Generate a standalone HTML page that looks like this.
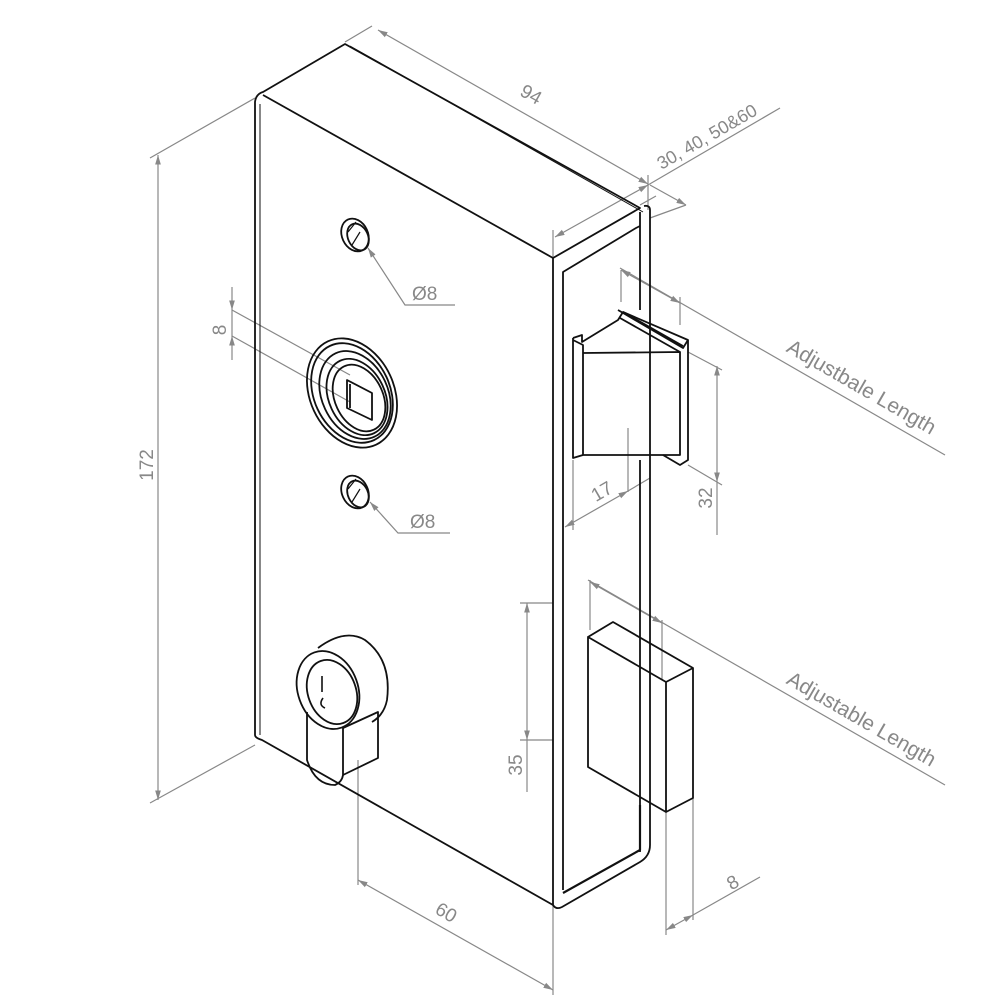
<!DOCTYPE html>
<html><head><style>body{margin:0;background:#fff}svg{display:block}</style></head><body>
<svg width="1000" height="1000" viewBox="0 0 1000 1000" xmlns="http://www.w3.org/2000/svg">
<rect width="1000" height="1000" fill="#fff"/>
<defs>
<marker id="a" viewBox="0 0 10 10" refX="10" refY="5" markerWidth="8" markerHeight="8" orient="auto-start-reverse"><path d="M0,2 L10,5 L0,8z" fill="#888"/></marker>
</defs>
<g stroke="#888" stroke-width="1.2" fill="none">
<line x1="255" y1="98" x2="150" y2="158"/><line x1="255" y1="745" x2="150" y2="803"/>
<line x1="158" y1="155" x2="158" y2="800" marker-start="url(#a)" marker-end="url(#a)"/>
<line x1="345" y1="42" x2="372" y2="26"/><line x1="640" y1="205" x2="656" y2="196"/>
<line x1="378" y1="30" x2="648" y2="184" marker-start="url(#a)" marker-end="url(#a)"/>
<line x1="648" y1="210" x2="648" y2="175"/><line x1="553" y1="258" x2="553" y2="230"/>
<line x1="555" y1="237" x2="648" y2="185" marker-start="url(#a)" marker-end="url(#a)"/>
<line x1="648" y1="185" x2="780" y2="108"/>
<line x1="650" y1="185" x2="686" y2="205" marker-end="url(#a)"/>
<line x1="650" y1="218" x2="686" y2="205"/>
<line x1="620" y1="268" x2="945" y2="455"/>
<line x1="621" y1="270" x2="621" y2="302"/><line x1="680" y1="297" x2="680" y2="325"/>
<line x1="621" y1="270" x2="680" y2="303" marker-start="url(#a)" marker-end="url(#a)"/>
<line x1="688" y1="352" x2="722" y2="370"/><line x1="688" y1="465" x2="722" y2="485"/>
<line x1="717" y1="366" x2="717" y2="482" marker-start="url(#a)" marker-end="url(#a)"/>
<line x1="717" y1="482" x2="717" y2="535"/>
<line x1="573" y1="460" x2="573" y2="530"/><line x1="628" y1="428" x2="628" y2="492"/>
<line x1="565" y1="527" x2="628" y2="491" marker-start="url(#a)" marker-end="url(#a)"/>
<line x1="628" y1="491" x2="650" y2="478"/>
<line x1="232" y1="310" x2="350" y2="375"/><line x1="232" y1="336" x2="350" y2="402"/>
<line x1="232" y1="287" x2="232" y2="310" marker-end="url(#a)"/>
<line x1="232" y1="360" x2="232" y2="336" marker-end="url(#a)"/>
<line x1="232" y1="310" x2="232" y2="336"/>
<polyline points="368,248 405,305 455,305" marker-start="url(#a)"/>
<polyline points="370,502 398,533 450,533" marker-start="url(#a)"/>
<line x1="520" y1="603" x2="553" y2="603"/><line x1="520" y1="740" x2="553" y2="740"/>
<line x1="527" y1="603" x2="527" y2="740" marker-start="url(#a)" marker-end="url(#a)"/>
<line x1="527" y1="740" x2="527" y2="792"/>
<line x1="588" y1="580" x2="945" y2="785"/>
<line x1="590" y1="580" x2="590" y2="630"/><line x1="662" y1="620" x2="662" y2="680"/>
<line x1="590" y1="582" x2="662" y2="623" marker-start="url(#a)" marker-end="url(#a)"/>
<line x1="358" y1="760" x2="358" y2="885"/><line x1="553" y1="905" x2="553" y2="995"/>
<line x1="358" y1="880" x2="553" y2="990" marker-start="url(#a)" marker-end="url(#a)"/>
<line x1="666" y1="812" x2="666" y2="935"/><line x1="693" y1="798" x2="693" y2="920"/>
<line x1="666" y1="930" x2="693" y2="915" marker-start="url(#a)" marker-end="url(#a)"/>
<line x1="693" y1="915" x2="760" y2="877"/>
</g>
<g fill="#888" font-family="Liberation Sans, sans-serif" font-size="19">
<text transform="translate(153,465) rotate(-90)" text-anchor="middle">172</text>
<text transform="translate(528,100) rotate(29.5)" text-anchor="middle">94</text>
<text transform="translate(710,142) rotate(-30)" text-anchor="middle" font-size="18">30, 40, 50&amp;60</text>
<text transform="translate(858,393) rotate(30)" text-anchor="middle" font-size="21">Adjustbale Length</text>
<text transform="translate(858,725) rotate(30)" text-anchor="middle" font-size="21">Adjustable Length</text>
<text transform="translate(712,498) rotate(-90)" text-anchor="middle">32</text>
<text transform="translate(605,497) rotate(-30)" text-anchor="middle">17</text>
<text transform="translate(226,330) rotate(-90)" text-anchor="middle">8</text>
<text transform="translate(522,765) rotate(-90)" text-anchor="middle">35</text>
<text transform="translate(443,918) rotate(30)" text-anchor="middle">60</text>
<text transform="translate(736,888) rotate(-30)" text-anchor="middle">8</text>
<text x="412" y="300">Ø8</text>
<text x="410" y="528">Ø8</text>
</g>
<g stroke="#111" stroke-width="1.8" fill="none" stroke-linejoin="round">
<path d="M255,735 L255,102 Q256,94 263,92 L345,44 L640,208 L553,258 L553,905 L262,740 Q255,738 255,735"/>
<line x1="260" y1="104" x2="260" y2="735" stroke-width="1"/>
<line x1="263" y1="95" x2="553" y2="258"/>
<line x1="350" y1="46" x2="643" y2="212" stroke-width="1"/>
<path d="M553,905 Q556,910 562,907 L640,862 Q650,856 650,845 L650,210 Q650,205 644,206"/>
<line x1="640" y1="212" x2="640" y2="310"/>
<line x1="640" y1="460" x2="640" y2="852"/>
<path d="M563,890 L563,272 L636,228 L640,226"/>
<path d="M563,893 L640,850 L640,805" stroke-width="2.2"/>
<path d="M573,338 L573,458 L583,455 M573,340 L583,345 L583,455 L680,455 L680,352 L583,353"/>
<path d="M573,338 L582,335 L582,342 L618,320 L623,312 L688,340 L688,460 L680,465 L663,455"/>
<path d="M618,310 L683,348 L688,340 M623,312 L683,346"/>
<path d="M680,352 L620,318"/>
<path d="M588,637 L613,622 L693,668 L666,682 L588,637 L588,767 L666,812 L693,798 L693,668 M666,682 L666,812"/>
<ellipse cx="355" cy="235" rx="13" ry="17" transform="rotate(-25 355 235)"/>
<ellipse cx="358" cy="237" rx="10" ry="14" transform="rotate(-25 358 237)"/>
<path d="M348,232 L356,222 M352,245 L360,232" stroke-width="1.2"/>
<ellipse cx="355" cy="492" rx="13" ry="17" transform="rotate(-25 355 492)"/>
<ellipse cx="358" cy="494" rx="10" ry="14" transform="rotate(-25 358 494)"/>
<path d="M348,489 L356,479 M352,502 L360,489" stroke-width="1.2"/>
<ellipse cx="352" cy="393" rx="42" ry="57" transform="rotate(-25 352 393)"/>
<ellipse cx="352" cy="393" rx="38" ry="52" transform="rotate(-25 352 393)"/>
<ellipse cx="355" cy="395" rx="33" ry="46" transform="rotate(-25 355 395)"/>
<ellipse cx="357" cy="397" rx="28" ry="40" transform="rotate(-25 357 397)"/>
<ellipse cx="359" cy="398" rx="24" ry="35" transform="rotate(-25 359 398)"/>
<path d="M347,380 L372,393 L372,420 L347,408 Z"/>
<path d="M350,384 L350,408"/>
<path d="M318,648 Q345,628 365,640 Q392,660 387,700 Q384,715 372,722"/>
<ellipse cx="328" cy="690" rx="30" ry="40" transform="rotate(-20 328 690)"/>
<ellipse cx="332" cy="692" rx="24" ry="33" transform="rotate(-20 332 692)"/>
<path d="M307,712 L307,760 Q315,785 335,785 Q342,782 343,775 L343,728"/>
<path d="M343,728 L378,712 L378,758 L343,775"/>
<path d="M322,676 L322,692 M323,698 Q318,705 325,708" stroke-width="1.6"/>
</g>
</svg>
</body></html>
